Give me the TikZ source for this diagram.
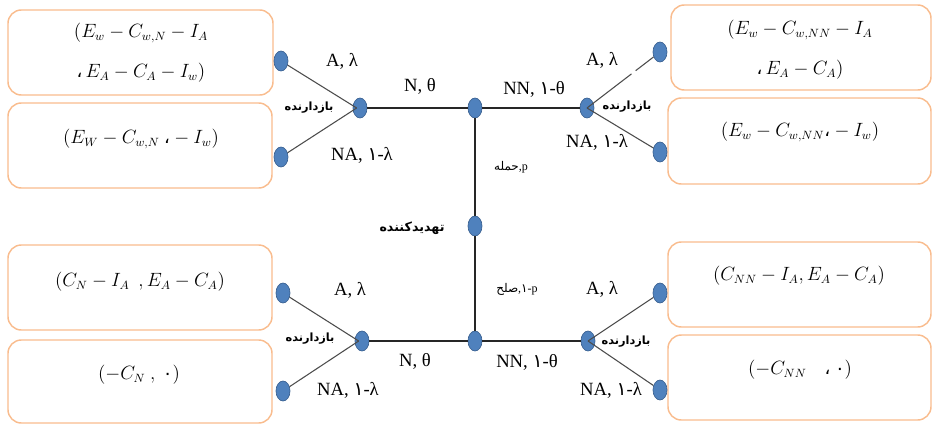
\documentclass[tikz,border=0pt]{standalone}
\usepackage{fontspec}
\setmainfont{Liberation Serif}
\newfontfamily\arabicfont[Script=Arabic]{DejaVu Sans}
\usetikzlibrary{shapes.geometric}
\TeXXeTstate=1
\newcommand{\fa}[1]{{\arabicfont\beginR #1\endR}}
\newcommand{\yek}{{\arabicfont ۱}}
\newcommand{\facomma}{\mbox{\arabicfont ،}}
\newcommand{\fazero}{\mbox{\arabicfont ۰}}
\definecolor{nodeblue}{HTML}{4F81BD}
\definecolor{nodeedge}{HTML}{3A6191}
\definecolor{boxorange}{HTML}{F9BC8E}
\begin{document}
\begin{tikzpicture}[x=0.75pt,y=-0.75pt,
  dot/.style={ellipse, fill=nodeblue, draw=nodeedge, line width=0.5pt,
    minimum width=10.5pt, minimum height=15pt, inner sep=0pt},
  payoff/.style={draw=boxorange, line width=1.1pt, rounded corners=10pt,
    minimum width=#1, inner sep=0pt},
  lbl/.style={font=\fontsize{14}{16}\selectfont, inner sep=0pt},
  mathtxt/.style={font=\fontsize{13.5}{16}\selectfont, inner sep=0pt},
  fab/.style={font=\arabicfont\bfseries\fontsize{8.5}{10}\selectfont, inner sep=0pt},
  fas/.style={font=\fontsize{9}{10}\selectfont, inner sep=0pt},
  branch/.style={draw=black!70, line width=0.8pt},
  trunk/.style={draw=black!85, line width=0.9pt}]
\useasboundingbox (0,0) rectangle (934,428);

% payoff boxes
\node[payoff=198.75pt, minimum height=63.75pt] (b1) at (140.5,52.5) {};
\node[payoff=198pt, minimum height=63.75pt] (b2) at (140,145.5) {};
\node[payoff=198pt, minimum height=63.75pt] (b3) at (140,287.5) {};
\node[payoff=198pt, minimum height=62.25pt] (b4) at (140,381.5) {};
\node[payoff=195pt, minimum height=63.75pt] (r1) at (801,47.5) {};
\node[payoff=197.25pt, minimum height=64.5pt] (r2) at (799.5,141) {};
\node[payoff=197.25pt, minimum height=63.75pt] (r3) at (799.5,284.5) {};
\node[payoff=197.25pt, minimum height=63.75pt] (r4) at (799.5,377.5) {};

% payoff texts
\node[mathtxt] (t1a) at (141,33) {$(E_w - C_{w,N} - I_A$};
\node[mathtxt] (t1b) at (141,73) {$\facomma\, E_A - C_A - I_w)$};
\node[mathtxt] (t2) at (141,139) {$(E_W - C_{w,N}\ \facomma -I_w)$};
\node[mathtxt] (t3) at (140,282) {$(C_N - I_A\ \ , E_A - C_A)$};
\node[mathtxt] (t4) at (139,375) {$(-C_N\ ,\ \fazero)$};
\node[mathtxt] (u1a) at (800,30) {$(E_w - C_{w,NN} - I_A$};
\node[mathtxt] (u1b) at (800,70) {$\facomma\, E_A - C_A)$};
\node[mathtxt] (u2) at (800,132) {$(E_w - C_{w,NN}\facomma -I_w)$};
\node[mathtxt] (u3) at (799,276) {$(C_{NN} - I_A, E_A - C_A)$};
\node[mathtxt] (u4) at (800,370) {$(-C_{NN}\quad\facomma\ \fazero)$};

% tree nodes
\node[dot] (tl1) at (281,61) {};
\node[dot] (tl2) at (281,157) {};
\node[dot] (tld) at (360,108) {};
\node[dot] (ct) at (475,108) {};
\node[dot] (cm) at (475,226) {};
\node[dot] (cb) at (475,341) {};
\node[dot] (trd) at (587,108) {};
\node[dot] (tr1) at (660,52) {};
\node[dot] (tr2) at (660,152) {};
\node[dot] (bl1) at (283,293) {};
\node[dot] (bl2) at (283,391) {};
\node[dot] (bld) at (362,341) {};
\node[dot] (brd) at (588,341) {};
\node[dot] (br1) at (660,293) {};
\node[dot] (br2) at (660,390) {};

% trunk lines (behind the nodes)
\begin{pgfonlayer}{main}\end{pgfonlayer}
\draw[trunk] (tld) -- (ct);
\draw[trunk] (ct) -- (trd);
\draw[trunk] (bld) -- (cb);
\draw[trunk] (cb) -- (brd);
\draw[trunk] (ct) -- (cm);
\draw[trunk] (cm) -- (cb);

% apex points of the branches
\coordinate (tlx) at ([xshift=-2.5pt]tld.center);
\coordinate (blx) at ([xshift=-2.5pt]bld.center);

% branch lines (over the decision nodes)
\draw[branch] (tl1) -- (tlx);
\draw[branch] (tl2) -- (tlx);
\draw[branch] (bl1) -- (blx);
\draw[branch] (bl2) -- (blx);
\draw[branch, dash pattern=on 42pt off 4pt on 200pt] (trd.center) -- (tr1);
\draw[branch] (trd.center) -- (tr2);
\draw[branch] (brd.center) -- (br1);
\draw[branch] (brd.center) -- (br2);

% labels
\node[lbl] (la1) at (342,61) {A, λ};
\node[lbl] (ln1) at (420,86) {N, θ};
\node[lbl] (lna1) at (362,155) {NA, \yek-λ};
\node[lbl] (la2) at (602,60) {A, λ};
\node[lbl] (lnn1) at (534,89) {NN, \yek-θ};
\node[lbl] (lna2) at (597,142) {NA, \yek-λ};
\node[lbl] (la3) at (350,290) {A, λ};
\node[lbl] (ln3) at (415,361) {N, θ};
\node[lbl] (lna3) at (348,390) {NA, \yek-λ};
\node[lbl] (la4) at (602,289) {A, λ};
\node[lbl] (lnn4) at (527,362) {NN, \yek-θ};
\node[lbl] (lna4) at (611,390) {NA, \yek-λ};

\node[fab] (det1) at (309,108) {\fa{بازدارنده}};
\node[fab] (det2) at (627,107) {\fa{بازدارنده}};
\node[fab] (det3) at (310,339) {\fa{بازدارنده}};
\node[fab] (det4) at (626,342) {\fa{بازدارنده}};
\node[fab, font=\arabicfont\bfseries\fontsize{9.5}{11}\selectfont] (thr) at (412,228) {\fa{تهدیدکننده}};
\node[fas] (att) at (511,167) {\fa{حمله},p};
\node[fas] (pea) at (517,289) {\fa{صلح},\yek-p};
\end{tikzpicture}
\end{document}
